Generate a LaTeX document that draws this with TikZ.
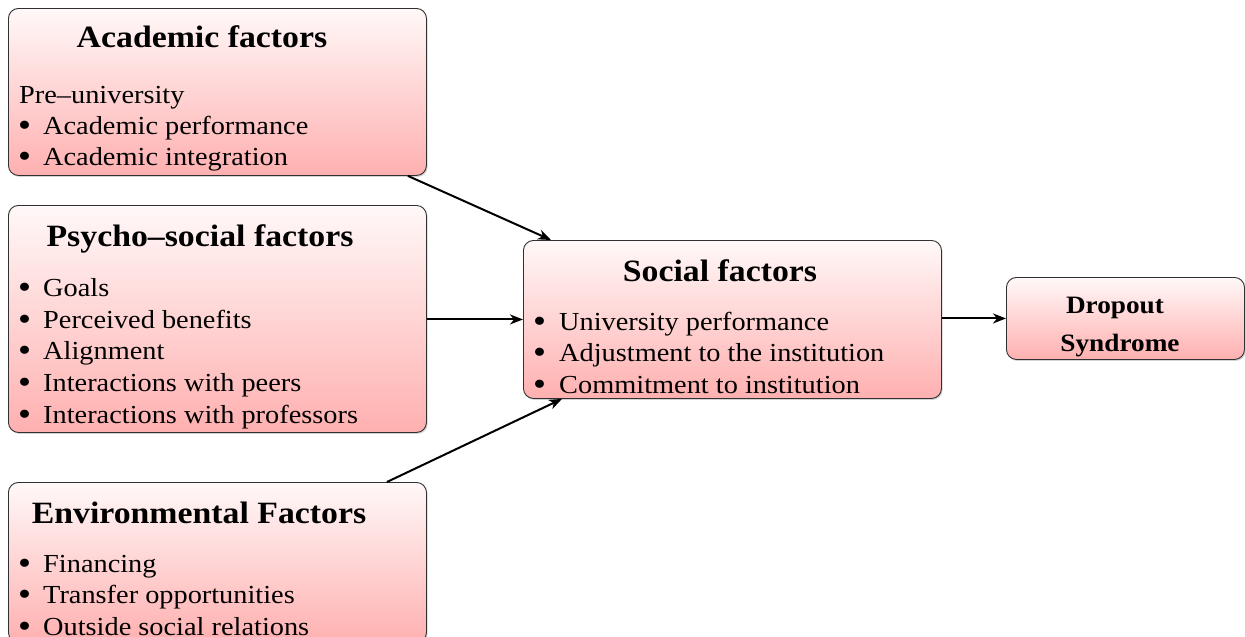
\documentclass[tikz,border=0pt]{standalone}
\usepackage{fontspec}
\setmainfont[FakeStretch=1.09]{Liberation Serif}
\usetikzlibrary{arrows.meta,calc,shadows}
\definecolor{boxtop}{HTML}{FFF8F8}
\definecolor{boxbot}{HTML}{FFB0B0}
\definecolor{boxline}{HTML}{303030}
\tikzset{
  fbox/.style={draw=boxline, line width=0.9pt, rounded corners=10pt, top color=boxtop, bottom color=boxbot,
    drop shadow={shadow xshift=1.2pt, shadow yshift=-1.5pt, opacity=0.35}, inner sep=0pt, anchor=north west},
  ttl/.style={font=\fontsize{31}{35}\selectfont\bfseries, anchor=base, inner sep=0pt},
  itm/.style={font=\fontsize{26}{31}\selectfont, anchor=base west, inner sep=0pt},
  bul/.style={font=\fontsize{34}{31}\selectfont, anchor=base west, inner sep=0pt},
  conn/.style={line width=2pt, -{Stealth[length=13pt,width=10pt,inset=4pt]}}
}
\begin{document}
\begin{tikzpicture}[x=1pt,y=-1pt]
\useasboundingbox (0,0) rectangle (1245,637);
% boxes
\node[fbox, minimum width=418pt, minimum height=167pt] (acad) at (8,8) {};
\node[fbox, minimum width=418pt, minimum height=227pt] (psy) at (8,205) {};
\node[fbox, minimum width=418pt, minimum height=160pt] (env) at (8,482) {};
\node[fbox, minimum width=418pt, minimum height=158pt] (soc) at (523,240) {};
\node[fbox, minimum width=238pt, minimum height=82pt] (drop) at (1006,277) {};
% academic
\node[ttl] (acadt) at (202,47) {Academic factors};
\node[itm] (a0) at (19,103) {Pre–university};
\node[bul] (a1b) at (18,136) {•};
\node[itm] (a1) at (43,134) {Academic performance};
\node[bul] (a2b) at (18,167) {•};
\node[itm] (a2) at (43,165) {Academic integration};
% psycho
\node[ttl] (psyt) at (200,246) {Psycho–social factors};
\node[bul] (p1b) at (18,298) {•};
\node[itm] (p1) at (43,296) {Goals};
\node[bul] (p2b) at (18,330) {•};
\node[itm] (p2) at (43,328) {Perceived benefits};
\node[bul] (p3b) at (18,361) {•};
\node[itm] (p3) at (43,359) {Alignment};
\node[bul] (p4b) at (18,393) {•};
\node[itm] (p4) at (43,391) {Interactions with peers};
\node[bul] (p5b) at (18,425) {•};
\node[itm] (p5) at (43,423) {Interactions with professors};
% environmental
\node[ttl] (envt) at (199,523) {Environmental Factors};
\node[bul] (e1b) at (18,574) {•};
\node[itm] (e1) at (43,572) {Financing};
\node[bul] (e2b) at (18,605) {•};
\node[itm] (e2) at (43,603) {Transfer opportunities};
\node[bul] (e3b) at (18,637) {•};
\node[itm] (e3) at (43,635) {Outside social relations};
% social
\node[ttl] (soct) at (720,281) {Social factors};
\node[bul] (s1b) at (533,332) {•};
\node[itm] (s1) at (559,330) {University performance};
\node[bul] (s2b) at (533,363) {•};
\node[itm] (s2) at (559,361) {Adjustment to the institution};
\node[bul] (s3b) at (533,395) {•};
\node[itm] (s3) at (559,393) {Commitment to institution};
% dropout
\node[ttl, font=\fontsize{25}{30}\selectfont\bfseries] (d1) at (1115,313) {Dropout};
\node[ttl, font=\fontsize{25}{30}\selectfont\bfseries] (d2) at (1120,351) {Syndrome};
% connectors
\draw[conn] ($(acad.south east)+(-19,0)$) -- ($(soc.north west)+(28,0)$);
\draw[conn] (psy.east |- soc.west) -- (soc.west);
\draw[conn] ($(env.north east)+(-40,0)$) -- ($(soc.south west)+(39,0)$);
\draw[conn] (soc.east |- drop.west) -- (drop.west);
\end{tikzpicture}
\end{document}
